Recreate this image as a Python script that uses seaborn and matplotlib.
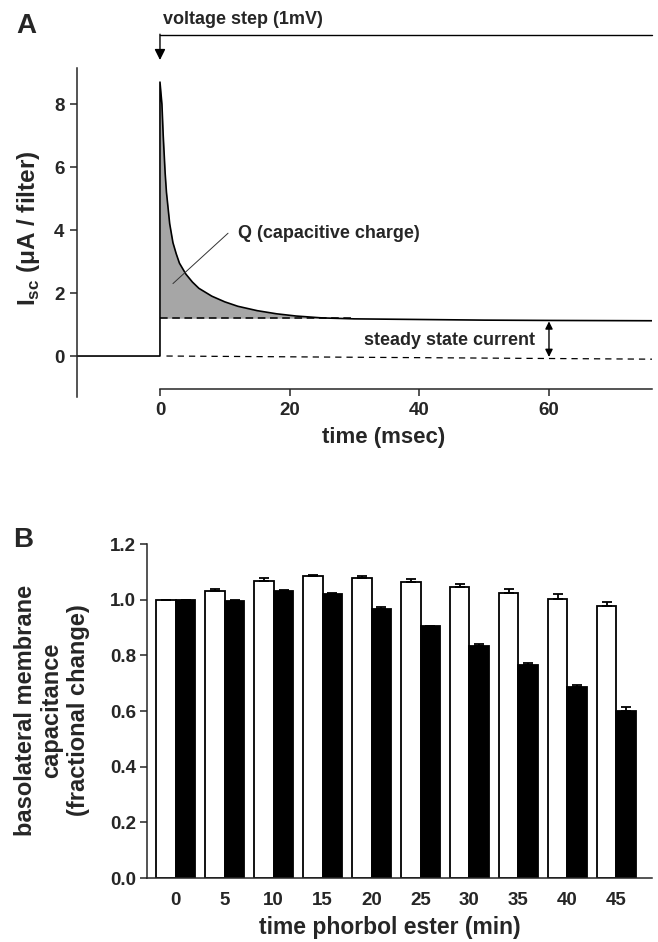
import numpy as np
import pandas as pd
import seaborn as sns
import matplotlib.pyplot as plt

# ---- panel A: short-circuit current after a 1 mV voltage step ----
trace_t = [-12.8, 0, 0, 0.3, 0.5, 0.8, 1.0, 1.5, 2.0, 2.5, 3.0, 4.0, 5.0, 6.0, 8.0,
           10, 12, 15, 18, 21, 25, 30, 40, 50, 60, 75.9]
trace_i = [0, 0, 8.7, 8.0, 7.0, 5.8, 5.2, 4.2, 3.6, 3.25, 2.95, 2.6, 2.35, 2.15, 1.9,
           1.72, 1.58, 1.44, 1.34, 1.27, 1.21, 1.18, 1.16, 1.14, 1.13, 1.12]
steady_level = 1.2
zero_line_t = [1.0, 75.9]
zero_line_i = [0.0, -0.1]
a_xticks = [0, 20, 40, 60]
a_yticks = [0, 2, 4, 6, 8]

# ---- panel B: basolateral capacitance vs time in phorbol ester ----
times = ["0", "5", "10", "15", "20", "25", "30", "35", "40", "45"]
control = [1.0, 1.03, 1.068, 1.086, 1.077, 1.065, 1.045, 1.024, 1.002, 0.976]
control_err = [0, 0.008, 0.009, 0.003, 0.008, 0.01, 0.01, 0.014, 0.017, 0.017]
pma = [1.0, 0.996, 1.032, 1.019, 0.968, 0.904, 0.835, 0.765, 0.685, 0.601]
pma_err = [0, 0.004, 0.003, 0.004, 0.007, 0.003, 0.007, 0.009, 0.01, 0.012]
b_yticks = [0.0, 0.2, 0.4, 0.6, 0.8, 1.0, 1.2]

sns.set_style("ticks")
plt.rcParams["font.family"] = ["Liberation Sans", "DejaVu Sans"]
plt.rcParams["font.weight"] = "bold"
plt.rcParams["mathtext.fontset"] = "custom"
plt.rcParams["mathtext.rm"] = "Liberation Sans:bold"
plt.rcParams["mathtext.bf"] = "Liberation Sans:bold"
plt.rcParams["axes.linewidth"] = 1.1

fig = plt.figure(figsize=(6.58, 9.42), dpi=100)
axA = fig.add_axes([0.117, 0.5786, 0.874, 0.349])
axB = fig.add_axes([0.2234, 0.0679, 0.7675, 0.3546])

# ---------------- A ----------------
t = np.array(trace_t)
cur = np.array(trace_i)
axA.fill_between(t, cur, steady_level, where=(t >= 0) & (cur >= steady_level),
                 color="#a6a6a6", linewidth=0, interpolate=True)
sns.lineplot(x=trace_t, y=trace_i, estimator=None, sort=False, color="black",
             linewidth=1.2, ax=axA)
axA.plot([0, 30], [steady_level, steady_level], color="black", lw=1.1, ls=(0, (5, 3)))
axA.plot(zero_line_t, zero_line_i, color="black", lw=0.9, ls=(0, (5, 4)))

axA.set_xlim(-12.8, 75.9)
axA.set_ylim(-1.3, 9.14)
axA.spines["top"].set_visible(False)
axA.spines["right"].set_visible(False)
axA.spines["bottom"].set_position(("data", -1.05))
axA.spines["bottom"].set_bounds(0, 75.9)
axA.set_xticks(a_xticks)
axA.set_yticks(a_yticks)
axA.tick_params(axis="both", direction="out", length=5, width=1.1, labelsize=13.5, pad=4)

axA.set_xlabel("time (msec)", fontsize=16, fontweight="bold", va="center")
axA.xaxis.set_label_coords(0.534, -0.122)
axA.set_ylabel(r"I$_{\mathbf{sc}}$ (μA / filter)", fontsize=17.5, fontweight="bold", va="center")
axA.yaxis.set_label_coords(-0.085, 0.514)

# voltage step marker
axA.plot([0, 75.9], [10.2, 10.2], color="black", lw=1.0, clip_on=False)
axA.annotate("", xy=(0, 9.4), xytext=(0, 10.22), annotation_clip=False,
             arrowprops=dict(arrowstyle="-|>", color="black", lw=1.0,
                             mutation_scale=16, shrinkA=0, shrinkB=0))
axA.text(0.4, 10.54, "voltage step (1mV)", fontsize=13, fontweight="bold",
         ha="left", va="baseline", clip_on=False)

# capacitive charge label
axA.plot([2.0, 10.5], [2.3, 3.9], color="#333333", lw=0.7)
axA.text(12.0, 3.9, "Q (capacitive charge)", fontsize=13, fontweight="bold",
         ha="left", va="center")

# steady state current
axA.annotate("", xy=(60, -0.03), xytext=(60, 1.1),
             arrowprops=dict(arrowstyle="<|-|>", color="black", lw=1.0,
                             mutation_scale=11, shrinkA=0, shrinkB=0))
axA.text(57.8, 0.5, "steady state current", fontsize=13, fontweight="bold",
         ha="right", va="center")

fig.text(16 / 658, 1 - 33 / 942, "A", fontsize=20, fontweight="bold", va="baseline")

# ---------------- B ----------------
df = pd.DataFrame({
    "time": times * 2,
    "value": control + pma,
    "group": ["control"] * len(times) + ["PMA"] * len(times),
})
sns.barplot(data=df, x="time", y="value", hue="group", order=times,
            hue_order=["control", "PMA"], palette=["white", "black"],
            edgecolor="black", linewidth=1.3, errorbar=None, width=0.8,
            legend=False, ax=axB)
pos = np.arange(len(times))
axB.errorbar(pos - 0.2, control, yerr=[np.zeros(len(times)), control_err], fmt="none",
             ecolor="black", elinewidth=1.3, capsize=3.5, capthick=1.3)
axB.errorbar(pos + 0.2, pma, yerr=[np.zeros(len(times)), pma_err], fmt="none",
             ecolor="black", elinewidth=1.3, capsize=3.5, capthick=1.3)

axB.set_xlim(-0.59, 9.73)
axB.set_ylim(0, 1.2)
axB.spines["top"].set_visible(False)
axB.spines["right"].set_visible(False)
axB.set_yticks(b_yticks)
axB.set_yticklabels([f"{v:.1f}" for v in b_yticks])
axB.tick_params(axis="y", direction="out", length=5, width=1.1, labelsize=13.5, pad=3)
axB.tick_params(axis="x", length=0, labelsize=13.5, pad=10)

axB.set_xlabel("time phorbol ester (min)", fontsize=16.5, fontweight="bold", va="center")
axB.xaxis.set_label_coords(0.481, -0.148)
axB.set_ylabel("basolateral membrane\ncapacitance\n(fractional change)", fontsize=17,
               fontweight="bold", va="center", linespacing=1.2)
axB.yaxis.set_label_coords(-0.188, 0.503)

fig.text(13 / 658, 1 - 547 / 942, "B", fontsize=20, fontweight="bold", va="baseline")

fig.savefig("out.png", dpi=100)
